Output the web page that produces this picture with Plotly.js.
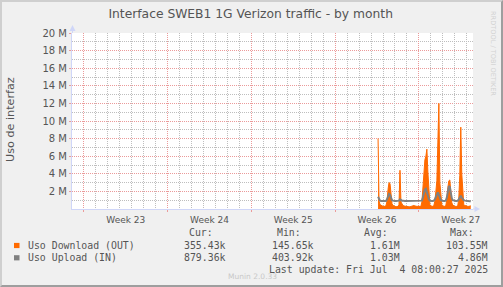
<!DOCTYPE html>
<html>
<head>
<meta charset="utf-8">
<script src="https://cdn.plot.ly/plotly-3.0.1.min.js"></script>
<style>
html, body { margin: 0; padding: 0; background: #f0f0f0; }
#wrap { position: relative; width: 503px; height: 287px; }
#chart { width: 503px; height: 287px; }
#frame {
  position: absolute; left: 0; top: 0; width: 503px; height: 287px;
  box-sizing: border-box; border-style: solid; border-width: 2px;
  border-color: #cfcfcf #9e9e9e #9e9e9e #cfcfcf; pointer-events: none;
}
</style>
</head>
<body>
<div id="wrap"><div id="chart"></div><div id="frame"></div></div>
<script>
// Two-hourly averages in Mbit/s, first sample Thu 26 Jun 2025 14:00
const sampleStart = '2025-06-26T14:00:00';
const sampleStepHours = 2;

const downloadOut = [
  8.0, 0.9, 0.5, 0.4, 0.35,
  0.3, 0.3, 0.3, 0.4, 0.9, 2.2, 3.0, 2.9, 1.6, 0.6, 0.4, 0.3,
  0.3, 0.25, 0.25, 0.3, 0.5, 4.4, 0.8, 0.5, 0.4, 0.35, 0.3, 0.3,
  0.3, 0.25, 0.25, 0.25, 0.3, 0.35, 0.4, 0.4, 0.35, 0.3, 0.3, 0.3,
  0.3, 0.3, 0.3, 0.8, 2.5, 4.6, 5.6, 6.0, 6.8, 4.2, 1.8, 0.5,
  0.35, 0.3, 0.3, 0.4, 0.9, 2.0, 3.2, 7.6, 12.0, 3.0, 1.0, 0.45,
  0.35, 0.3, 0.3, 0.4, 1.1, 2.4, 3.2, 3.3, 2.0, 0.7, 0.45, 0.35,
  0.3, 0.3, 0.3, 0.4, 1.2, 3.8, 9.3, 4.0, 1.2, 0.5, 0.4, 0.35,
  0.3, 0.3, 0.3, 0.35, 0.36
];

const uploadIn = [
  1.4, 1.1, 0.95, 0.9, 0.9,
  0.9, 0.9, 0.9, 0.9, 1.1, 1.5, 1.7, 1.6, 1.2, 1.0, 0.95, 0.9,
  0.9, 0.9, 0.9, 0.9, 0.95, 1.1, 1.0, 0.95, 0.95, 0.9, 0.9, 0.9,
  0.9, 0.88, 0.88, 0.88, 0.9, 0.92, 0.95, 0.95, 0.92, 0.9, 0.9, 0.9,
  0.9, 0.9, 0.9, 0.95, 1.3, 1.8, 2.2, 2.3, 1.9, 1.4, 1.1, 0.95,
  0.9, 0.9, 0.9, 0.95, 1.1, 1.4, 1.8, 1.9, 1.6, 1.2, 1.0, 0.95,
  0.9, 0.9, 0.9, 0.95, 1.3, 2.0, 2.6, 2.5, 1.8, 1.2, 1.0, 0.95,
  0.9, 0.9, 0.9, 0.95, 1.1, 1.3, 1.5, 1.3, 1.1, 1.0, 0.95, 0.92,
  0.9, 0.9, 0.88, 0.88, 0.88
];

const seriesNames = ['Uso Download (OUT)', 'Uso Upload (IN)'];
const seriesColors = ['#ff6a00', '#808080'];
const statHeaders = ['Cur:', 'Min:', 'Avg:', 'Max:'];
const curValues = ['355.43k', '879.36k'];
const minValues = ['145.65k', '403.92k'];
const avgValues = ['1.61M', '1.03M'];
const maxValues = ['103.55M', '4.86M'];
const yTickValues = [2, 4, 6, 8, 10, 12, 14, 16, 18, 20];
const yTickLabels = yTickValues.map(v => v + ' M');
const yMinorValues = [1, 3, 5, 7, 9, 11, 13, 15, 17, 19];
const chartTitle = 'Interface SWEB1 1G Verizon traffic - by month';
const yTitle = 'Uso de interfaz';
const lastUpdate = 'Last update: Fri Jul \u00a04 08:00:27 2025';
const watermark = 'Munin 2.0.33';
const sideMark = 'RRDTOOL / TOBI OETIKER';
const timeRange = ['2025-06-01 00:00', '2025-07-04 12:30'];
const firstMonday = '2025-06-02';
const DAY = 864e5;

const fmt = ms => new Date(ms).toISOString().slice(0, 16).replace('T', ' ');

// sample timestamps
const t0 = Date.parse(sampleStart + 'Z');
const times = downloadOut.map((_, i) => fmt(t0 + i * sampleStepHours * 3600e3));

// midnights inside the range that are not week starts (daily grid)
const dayGrid = [];
for (let d = Date.parse(timeRange[0].replace(' ', 'T') + 'Z'),
         end = Date.parse(timeRange[1].replace(' ', 'T') + 'Z'); d <= end; d += DAY) {
  if (new Date(d).getUTCDay() !== 1) dayGrid.push(fmt(d));
}

// pixel -> paper helpers for the frame decorations
const L = 72, R = 30, T = 33, B = 78, W = 503, H = 287;
const PW = W - L - R, PH = H - T - B;
const px = x => (x - L) / PW;
const py = y => (H - B - y) / PH;

const AXIS = '#cfd6f8';
const MGRID = '#eb9a9a';
const GRID = '#bebebe';
const TXT = '#555555';
const MONO = 'DejaVu Sans Mono';

const traces = [
  // empty traces that bind the grid-only overlay axes
  { x: [], y: [], xaxis: 'x2', yaxis: 'y', type: 'scatter', hoverinfo: 'skip' },
  { x: [], y: [], xaxis: 'x3', yaxis: 'y', type: 'scatter', hoverinfo: 'skip' },
  { x: [], y: [], xaxis: 'x', yaxis: 'y2', type: 'scatter', hoverinfo: 'skip' },
  {
    x: times, y: downloadOut, type: 'scatter', mode: 'lines',
    name: seriesNames[0], fill: 'tozeroy', fillcolor: seriesColors[0],
    line: { color: seriesColors[0], width: 1 }, hoverinfo: 'skip'
  },
  {
    x: times, y: uploadIn, type: 'scatter', mode: 'lines',
    name: seriesNames[1], line: { color: seriesColors[1], width: 2 }, hoverinfo: 'skip'
  }
];

const annotations = [];
function note(text, x, y, o) {
  annotations.push(Object.assign({
    text, x: px(x), y: py(y), xref: 'paper', yref: 'paper',
    showarrow: false, xanchor: 'left', yanchor: 'middle', borderpad: 0,
    font: { family: MONO, size: 9.85, color: TXT }
  }, o || {}));
}

// y axis title
note(yTitle, 11, 120, { xanchor: 'center', textangle: -90,
  font: { family: 'DejaVu Sans', size: 11.2, color: TXT } });

// legend table
const headerRight = [213.5, 302, 388.5, 475];
const valueRight = [227, 314.5, 401, 488.5];
statHeaders.forEach((h, i) => note(h, headerRight[i], 232.5, { xanchor: 'right' }));
const rowsY = [245.5, 257.8];
const columns = [curValues, minValues, avgValues, maxValues];
seriesNames.forEach((n, r) => {
  note(n, 26.5, rowsY[r]);
  columns.forEach((col, c) => note(col[r], valueRight[c], rowsY[r], { xanchor: 'right' }));
});
note(lastUpdate, 488.5, 269.2, { xanchor: 'right' });
note(watermark, 252, 276.7, { xanchor: 'center',
  font: { family: 'DejaVu Sans', size: 7.5, color: '#c8c8c8' } });
note(sideMark, 493, 53, { xanchor: 'center', textangle: 90,
  font: { family: 'DejaVu Sans', size: 6.6, color: '#d2d2d2' } });

const shapes = [];
// legend colour squares
seriesColors.forEach((c, r) => shapes.push({
  type: 'rect', xref: 'paper', yref: 'paper',
  x0: px(14), x1: px(19.5), y0: py(rowsY[r] - 2.6), y1: py(rowsY[r] + 2.6),
  fillcolor: c, line: { width: 0 }
}));
// axis arrows
shapes.push({ type: 'line', xref: 'paper', yref: 'paper',
  x0: px(72.5), x1: px(72.5), y0: py(33), y1: py(30), line: { color: AXIS, width: 1 } });
shapes.push({ type: 'path', xref: 'paper', yref: 'paper',
  path: `M ${px(69.5)} ${py(31)} L ${px(75.5)} ${py(31)} L ${px(72.5)} ${py(25)} Z`,
  fillcolor: AXIS, line: { width: 0 } });
shapes.push({ type: 'line', xref: 'paper', yref: 'paper',
  x0: px(473), x1: px(476), y0: py(209), y1: py(209), line: { color: AXIS, width: 1 } });
shapes.push({ type: 'path', xref: 'paper', yref: 'paper',
  path: `M ${px(474.5)} ${py(206)} L ${px(474.5)} ${py(212)} L ${px(480)} ${py(209)} Z`,
  fillcolor: AXIS, line: { width: 0 } });

// grid-only axes: no labels, just dotted lines
const gridAxis = (extra) => Object.assign({
  showticklabels: false, showline: false, zeroline: false, fixedrange: true,
  showgrid: true, gridwidth: 1, griddash: '1px,1px', ticks: ''
}, extra);

const layout = {
  width: W, height: H,
  margin: { l: L, r: R, t: T, b: B, pad: 0 },
  paper_bgcolor: '#f0f0f0', plot_bgcolor: '#ffffff',
  showlegend: false,
  font: { family: 'DejaVu Sans', color: TXT, size: 10 },
  title: {
    text: chartTitle, xref: 'container', yref: 'container',
    x: 250.7 / W, y: 1 - 14 / H, xanchor: 'center', yanchor: 'middle',
    font: { family: 'DejaVu Sans', size: 12.3, color: TXT }
  },
  xaxis: {
    type: 'date', range: timeRange, fixedrange: true,
    tickmode: 'linear', tick0: firstMonday, dtick: 7 * DAY,
    ticklabelmode: 'period', tickformat: 'Week %V',
    showgrid: false,
    showline: true, linecolor: AXIS, linewidth: 1, zeroline: false,
    ticks: 'outside', ticklen: 2, tickcolor: MGRID,
    tickfont: { size: 9, color: TXT }
  },
  // daily grid
  xaxis2: gridAxis({ type: 'date', range: timeRange, overlaying: 'x', anchor: 'y',
    tickmode: 'array', tickvals: dayGrid, gridcolor: GRID }),
  // weekly grid
  xaxis3: gridAxis({ type: 'date', range: timeRange, overlaying: 'x', anchor: 'y',
    tickmode: 'linear', tick0: firstMonday, dtick: 7 * DAY, gridcolor: MGRID }),
  // labels plus the 2 M grid
  yaxis: {
    range: [0, 20], fixedrange: true,
    tickmode: 'array', tickvals: yTickValues, ticktext: yTickLabels,
    showgrid: true, gridcolor: MGRID, griddash: '1px,1px', gridwidth: 1,
    showline: true, linecolor: AXIS, linewidth: 1, zeroline: false,
    ticks: 'outside', ticklen: 2, tickcolor: MGRID,
    tickfont: { size: 10, color: TXT }
  },
  // 1 M minor grid
  yaxis2: gridAxis({ range: [0, 20], overlaying: 'y', anchor: 'x',
    tickmode: 'array', tickvals: yMinorValues, gridcolor: GRID }),
  annotations, shapes
};

Plotly.newPlot('chart', traces, layout, { staticPlot: true, displayModeBar: false });
</script>
</body>
</html>
